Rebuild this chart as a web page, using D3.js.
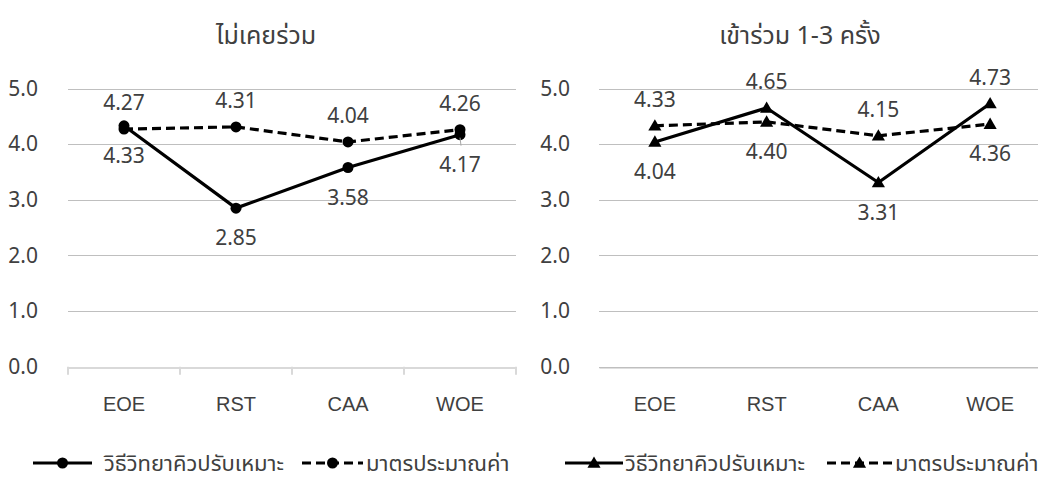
<!DOCTYPE html>
<html>
<head>
<meta charset="utf-8">
<script src="https://cdn.jsdelivr.net/npm/d3@7"></script>
<style>
  html, body { margin: 0; padding: 0; background: #fff; }
  svg { display: block; font-family: "Noto Sans", "Noto Sans Thai", "Leelawadee UI", sans-serif; }
</style>
</head>
<body>
<svg id="chart" width="1038" height="477"></svg>
<script>
// ---- data ----
const categories = ["EOE", "RST", "CAA", "WOE"];
const yTickValues = [0, 1, 2, 3, 4, 5];
const seriesNames = ["วิธีวิทยาคิวปรับเหมาะ", "มาตรประมาณค่า"];
const panelTitles = ["ไม่เคยร่วม", "เข้าร่วม 1-3 ครั้ง"];

const neverAdaptive = [4.33, 2.85, 3.58, 4.17];
const neverRating   = [4.27, 4.31, 4.04, 4.26];
const onceAdaptive  = [4.04, 4.65, 3.31, 4.73];
const onceRating    = [4.33, 4.40, 4.15, 4.36];

const neverAdaptiveLabelPos = ["below", "below", "below", "below"];
const neverRatingLabelPos   = ["above", "above", "above", "above"];
const onceAdaptiveLabelPos  = ["below", "above", "below", "above"];
const onceRatingLabelPos    = ["above", "below", "above", "below"];

// ---- layout ----
const svg = d3.select("#chart");
const textColor = "#404040";
const gridColor = "#bfbfbf";

const panels = [
  { title: panelTitles[0], x0: 68, x1: 516, tickLabelX: 38, titleX: 266, marker: "circle", axisTicks: true,
    series: [
      { name: seriesNames[0], values: neverAdaptive, pos: neverAdaptiveLabelPos, dashed: false },
      { name: seriesNames[1], values: neverRating, pos: neverRatingLabelPos, dashed: true }
    ],
    legend: [ { lx0: 33, lx1: 92, tx: 104 }, { lx0: 302, lx1: 363, tx: 366 } ] },
  { title: panelTitles[1], x0: 599, x1: 1046, tickLabelX: 570, titleX: 800, marker: "triangle", axisTicks: false,
    series: [
      { name: seriesNames[0], values: onceAdaptive, pos: onceAdaptiveLabelPos, dashed: false },
      { name: seriesNames[1], values: onceRating, pos: onceRatingLabelPos, dashed: true }
    ],
    legend: [ { lx0: 565, lx1: 623, tx: 625 }, { lx0: 827, lx1: 892, tx: 895 } ] }
];

const y = d3.scaleLinear().domain([0, 5]).range([366.7, 88.5]);

function drawMarker(g, type, cx, cy) {
  if (type === "circle") {
    g.append("circle").attr("cx", cx).attr("cy", cy).attr("r", 5.5).attr("fill", "#000");
  } else {
    const sym = d3.symbol().type(d3.symbolTriangle).size(75);
    g.append("path").attr("d", sym()).attr("transform", `translate(${cx},${cy + 1})`).attr("fill", "#000");
  }
}

panels.forEach(p => {
  const g = svg.append("g");
  const x = d3.scaleBand().domain(categories).range([p.x0, p.x1]);
  const cx = c => x(c) + x.bandwidth() / 2;

  // title
  g.append("text").attr("x", p.titleX).attr("y", 44).attr("text-anchor", "middle")
    .attr("font-size", 25).attr("fill", textColor).text(p.title);

  // gridlines
  g.selectAll(".grid").data(yTickValues.filter(v => v > 0 || !p.axisTicks)).enter().append("line")
    .attr("x1", p.x0).attr("x2", p.x1).attr("y1", d => Math.round(y(d)) + 0.5).attr("y2", d => Math.round(y(d)) + 0.5)
    .attr("stroke", gridColor).attr("stroke-width", 1);

  // y tick labels
  g.selectAll(".ytl").data(yTickValues).enter().append("text")
    .attr("x", p.tickLabelX).attr("y", d => y(d)).attr("dy", "0.35em").attr("text-anchor", "end")
    .attr("font-size", 21).attr("fill", textColor).text(d => d3.format(".1f")(d));

  // x axis
  const xAxis = d3.axisBottom(x).tickSize(0).tickPadding(p.axisTicks ? 29 : 29).tickSizeOuter(0);
  const ax = g.append("g").attr("transform", `translate(0,${Math.round(y(0)) + 0.5})`).call(xAxis);
  ax.select(".domain").attr("stroke", p.axisTicks ? "#d9d9d9" : gridColor).attr("stroke-width", p.axisTicks ? 2 : 1);
  ax.selectAll(".tick line").remove();
  ax.selectAll(".tick text").attr("font-size", 20).attr("fill", textColor).attr("font-family", null);
  if (p.axisTicks) {
    const edges = [p.x0, ...categories.map(c => x(c) + x.bandwidth())];
    g.selectAll(".xt").data(edges).enter().append("line")
      .attr("x1", d => d).attr("x2", d => d).attr("y1", y(0)).attr("y2", y(0) + 8)
      .attr("stroke", "#d9d9d9").attr("stroke-width", 2);
  }

  // lines (dashed first, solid on top)
  const line = d3.line().x((d, i) => cx(categories[i])).y(d => y(d));
  const order = [1, 0];
  order.forEach(si => {
    const s = p.series[si];
    g.append("path").attr("d", line(s.values)).attr("fill", "none").attr("stroke", "#000")
      .attr("stroke-width", 3.2).attr("stroke-dasharray", s.dashed ? "9,5" : null)
      .attr("stroke-linejoin", "round");
    s.values.forEach((v, i) => drawMarker(g, p.marker, cx(categories[i]), y(v)));
  });

  // leader line for a moved label (left panel, WOE)
  if (p.axisTicks) {
    const wx = cx(categories[3]);
    g.append("line").attr("x1", wx).attr("x2", wx + 1).attr("y1", y(p.series[0].values[3]) + 3)
      .attr("y2", y(p.series[0].values[3]) + 11).attr("stroke", "#a6a6a6").attr("stroke-width", 1);
  }

  // data labels
  p.series.forEach(s => {
    s.values.forEach((v, i) => {
      const above = s.pos[i] === "above";
      g.append("text").attr("x", cx(categories[i]))
        .attr("y", y(v) + (above ? -26 : 30)).attr("dy", "0.35em").attr("text-anchor", "middle")
        .attr("font-size", 21).attr("fill", textColor).text(d3.format(".2f")(v));
    });
  });

  // legend
  const ly = 463;
  p.series.forEach((s, si) => {
    const L = p.legend[si];
    g.append("line").attr("x1", L.lx0).attr("x2", L.lx1).attr("y1", ly).attr("y2", ly)
      .attr("stroke", "#000").attr("stroke-width", 3.2).attr("stroke-dasharray", s.dashed ? "9,5" : null);
    drawMarker(g, p.marker, (L.lx0 + L.lx1) / 2, ly);
    g.append("text").attr("x", L.tx).attr("y", ly).attr("dy", "0.35em")
      .attr("font-size", 22).attr("fill", textColor).text(s.name);
  });
});
</script>
</body>
</html>
